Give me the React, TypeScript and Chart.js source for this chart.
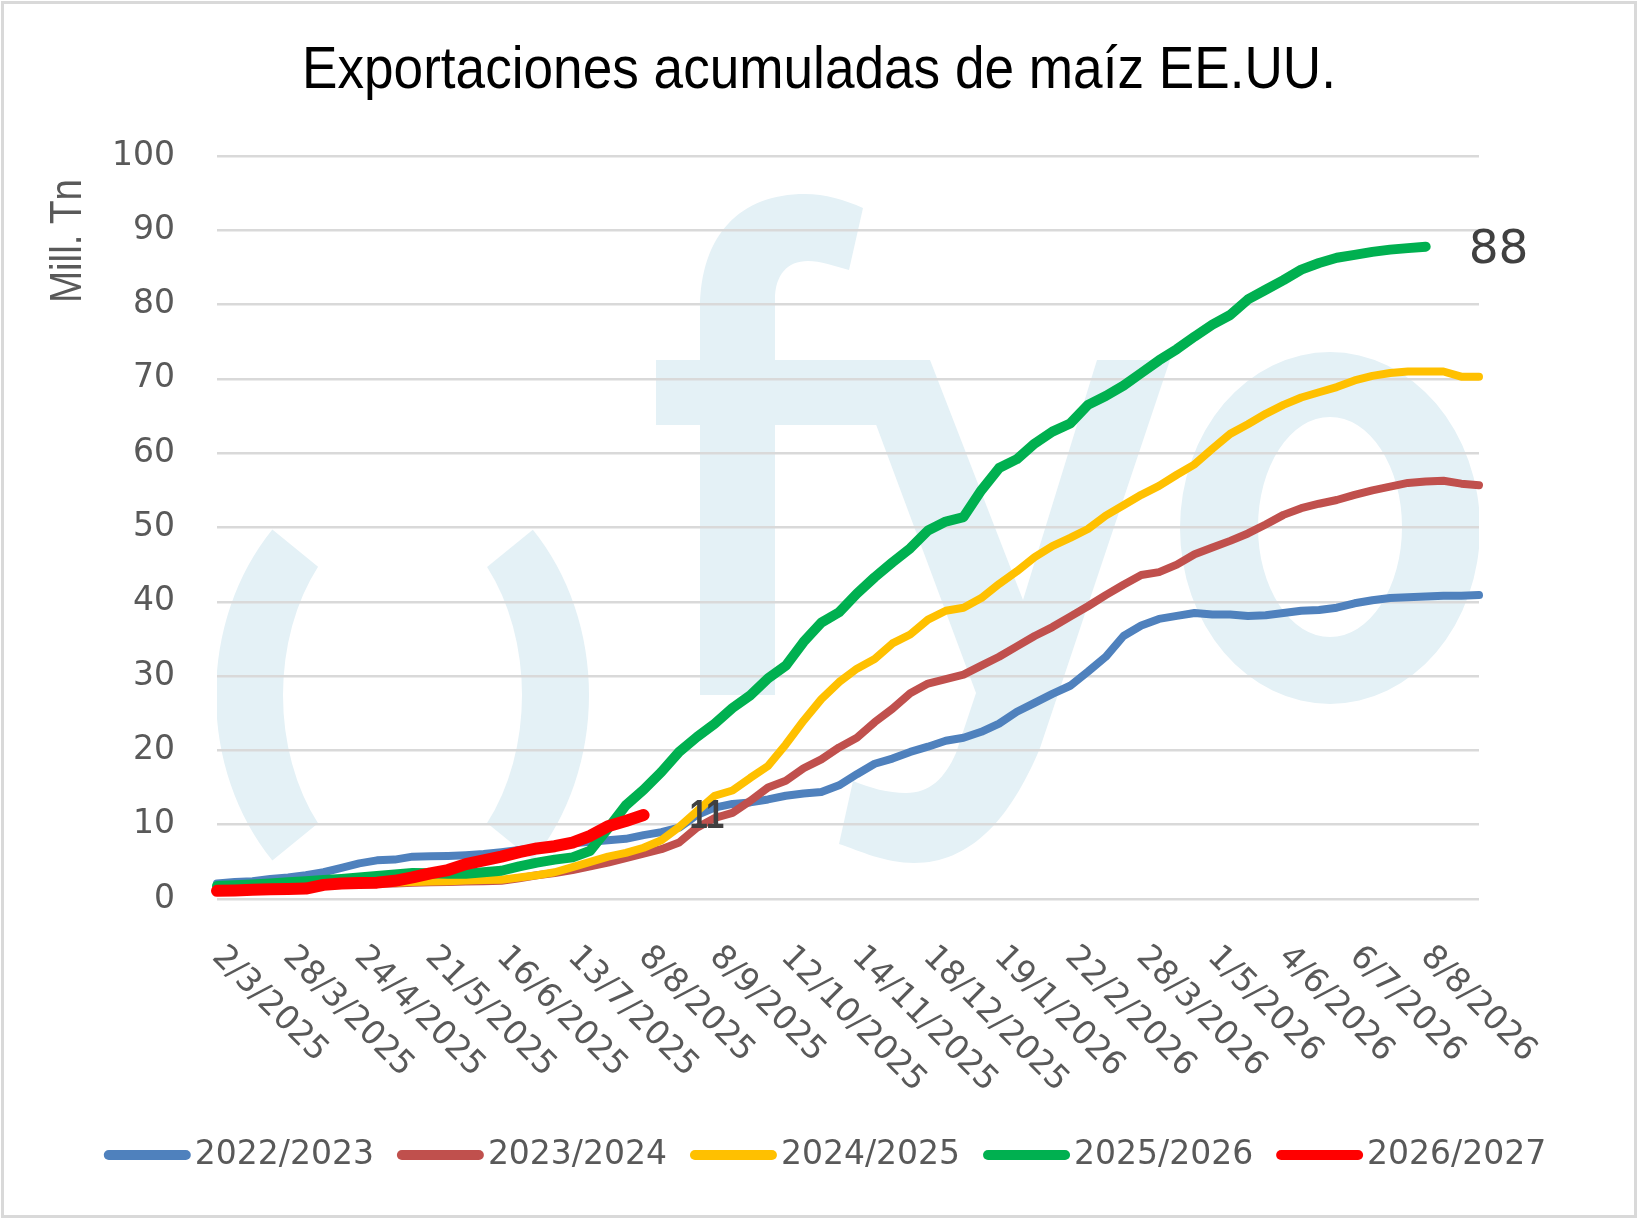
import React, { useEffect, useRef } from 'react';
import { Chart, registerables } from 'chart.js';

Chart.register(...registerables);

// one label every 4 weeks on the x axis
const tickLabels = [
  '2/3/2025', '28/3/2025', '24/4/2025', '21/5/2025', '16/6/2025', '13/7/2025',
  '8/8/2025', '8/9/2025', '12/10/2025', '14/11/2025', '18/12/2025', '19/1/2026',
  '22/2/2026', '28/3/2026', '1/5/2026', '4/6/2026', '6/7/2026', '8/8/2026',
];
const weeksPerTick = 4;
const weekCount = 72;

const seasons = ['2022/2023', '2023/2024', '2024/2025', '2025/2026', '2026/2027'];

// cumulative exports, million tonnes
const s2223 = [
  2.1, 2.3, 2.4, 2.7, 2.9, 3.2, 3.6, 4.2, 4.8, 5.2,
  5.3, 5.7, 5.75, 5.8, 5.9, 6.05, 6.3, 6.6, 6.9, 7.2,
  7.5, 7.7, 7.9, 8.1, 8.6, 9.0, 9.6, 11.3, 12.3, 12.8,
  13.0, 13.4, 13.9, 14.2, 14.4, 15.3, 16.8, 18.2, 18.9, 19.8,
  20.5, 21.3, 21.7, 22.5, 23.6, 25.2, 26.4, 27.6, 28.7, 30.6,
  32.6, 35.4, 36.8, 37.7, 38.1, 38.5, 38.3, 38.3, 38.1, 38.2,
  38.5, 38.8, 38.9, 39.2, 39.8, 40.2, 40.5, 40.6, 40.7, 40.8,
  40.8, 40.9,
];
const s2324 = [
  1.6, 1.65, 1.7, 1.75, 1.8, 1.85, 1.9, 1.95, 2.0, 2.05,
  2.1, 2.2, 2.25, 2.3, 2.35, 2.4, 2.45, 2.8, 3.2, 3.5,
  3.9, 4.4, 4.9, 5.5, 6.1, 6.7, 7.6, 9.6, 10.9, 11.6,
  13.2, 15.0, 15.9, 17.6, 18.8, 20.4, 21.7, 23.8, 25.6, 27.7,
  29.0, 29.6, 30.2, 31.4, 32.6, 34.0, 35.4, 36.6, 38.0, 39.4,
  40.9, 42.3, 43.6, 44.0, 45.0, 46.4, 47.3, 48.2, 49.2, 50.4,
  51.7, 52.6, 53.2, 53.7, 54.4, 55.0, 55.5, 56.0, 56.2, 56.3,
  55.9, 55.7,
];
const s2425 = [
  1.5, 1.55, 1.6, 1.65, 1.7, 1.8, 1.9, 1.95, 2.0, 2.1,
  2.2, 2.3, 2.35, 2.4, 2.5, 2.55, 2.6, 2.9, 3.2, 3.6,
  4.3, 5.0, 5.7, 6.2, 6.9, 7.9, 9.7, 11.8, 13.9, 14.6,
  16.3, 17.9, 20.8, 24.0, 26.9, 29.2, 31.0, 32.3, 34.4, 35.6,
  37.6, 38.8, 39.2, 40.5, 42.4, 44.1, 46.0, 47.5, 48.6, 49.8,
  51.6, 53.0, 54.4, 55.6, 57.1, 58.5, 60.6, 62.6, 63.9, 65.3,
  66.5, 67.5, 68.2, 68.9, 69.8, 70.4, 70.8, 71.0, 71.0, 71.0,
  70.3, 70.3,
];
const s2526 = [
  1.75, 1.85, 1.95, 2.1, 2.25, 2.4, 2.55, 2.7, 2.9, 3.1,
  3.3, 3.5, 3.45, 3.4, 3.4, 3.6, 3.8, 4.4, 4.9, 5.3,
  5.6, 6.5, 9.5, 12.6, 14.7, 17.1, 19.8, 21.8, 23.6, 25.7,
  27.4, 29.7, 31.4, 34.6, 37.2, 38.6, 41.1, 43.3, 45.3, 47.2,
  49.6, 50.8, 51.4, 55.0, 58.0, 59.2, 61.3, 62.9, 64.0, 66.5,
  67.7, 69.1, 70.8, 72.5, 74.0, 75.7, 77.3, 78.6, 80.7, 82.0,
  83.3, 84.7, 85.6, 86.3, 86.7, 87.1, 87.4, 87.6, 87.8,
];
const s2627 = [
  1.1, 1.15, 1.25, 1.3, 1.35, 1.4, 1.9, 2.1, 2.15, 2.2,
  2.45, 2.9, 3.45, 3.9, 4.7, 5.2, 5.7, 6.3, 6.8, 7.1,
  7.6, 8.5, 9.8, 10.5, 11.3,
];

const categories = Array.from({ length: weekCount }, (_, i) =>
  i % weeksPerTick === 0 ? tickLabels[i / weeksPerTick] : ''
);

const greyText = '#595959';
const tickFont = '"DejaVu Sans", sans-serif';

// light blue "( )fyo" logo behind the plot
function drawWatermark(ctx: CanvasRenderingContext2D, area: any) {
  ctx.save();
  ctx.beginPath();
  ctx.rect(area.left, area.top, area.right - area.left, area.bottom - area.top);
  ctx.clip();
  ctx.fillStyle = '#e4f1f6';

  ctx.beginPath();
  ctx.ellipse(420, 695, 204, 240, 0, -2.38, 2.38, true);
  ctx.ellipse(420, 695, 137, 192, 0, 2.41, -2.41, false);
  ctx.closePath();
  ctx.fill();

  ctx.beginPath();
  ctx.ellipse(385, 695, 204, 240, 0, -0.76, 0.76, false);
  ctx.ellipse(385, 695, 137, 192, 0, 0.73, -0.73, true);
  ctx.closePath();
  ctx.fill();

  // f
  ctx.beginPath();
  ctx.moveTo(700, 695);
  ctx.lineTo(700, 310);
  ctx.bezierCurveTo(700, 235, 740, 194, 805, 194);
  ctx.bezierCurveTo(825, 194, 845, 200, 863, 208);
  ctx.lineTo(849, 270);
  ctx.bezierCurveTo(835, 266, 820, 261, 808, 261);
  ctx.bezierCurveTo(787, 261, 775, 275, 775, 300);
  ctx.lineTo(775, 695);
  ctx.closePath();
  ctx.fill();
  ctx.fillRect(656, 360, 274, 65);

  // y
  ctx.beginPath();
  ctx.moveTo(852, 360);
  ctx.lineTo(930, 360);
  ctx.lineTo(1023, 600);
  ctx.lineTo(1097, 360);
  ctx.lineTo(1170, 360);
  ctx.lineTo(1040, 748);
  ctx.bezierCurveTo(1010, 820, 970, 863, 914, 863);
  ctx.bezierCurveTo(885, 863, 860, 851, 839, 844);
  ctx.lineTo(853, 781);
  ctx.bezierCurveTo(870, 788, 888, 793, 906, 793);
  ctx.bezierCurveTo(930, 793, 945, 778, 956, 753);
  ctx.lineTo(976, 693);
  ctx.closePath();
  ctx.fill();

  // o
  ctx.beginPath();
  ctx.ellipse(1330, 528, 150, 176, 0, 0, Math.PI * 2);
  ctx.moveTo(1402, 527);
  ctx.ellipse(1330, 527, 72, 110, 0, 0, Math.PI * 2);
  ctx.fill('evenodd');
  ctx.restore();
}

const framePlugin = {
  id: 'frame',
  beforeDraw(chart: any) {
    const { ctx, width, height, chartArea } = chart;
    ctx.save();
    ctx.fillStyle = '#ffffff';
    ctx.fillRect(0, 0, width, height);
    ctx.strokeStyle = '#d9d9d9';
    ctx.lineWidth = 3;
    ctx.strokeRect(2.5, 2.5, width - 5, height - 5);
    ctx.restore();
    drawWatermark(ctx, chartArea);
  },
  afterDraw(chart: any) {
    const { ctx, chartArea } = chart;
    const xScale = chart.scales.x;

    ctx.save();
    // title, condensed to the width of the original
    ctx.font = '60px "Liberation Sans", Arial, sans-serif';
    ctx.fillStyle = '#000000';
    ctx.textBaseline = 'alphabetic';
    ctx.textAlign = 'center';
    const title = 'Exportaciones acumuladas de maíz EE.UU.';
    const tw = ctx.measureText(title).width;
    ctx.save();
    ctx.translate(chart.width / 2, 88);
    ctx.scale(1034 / tw, 1);
    ctx.fillText(title, 0, 0);
    ctx.restore();

    // y axis title
    ctx.font = '44px "Liberation Sans", Arial, sans-serif';
    ctx.fillStyle = greyText;
    ctx.textBaseline = 'middle';
    ctx.save();
    ctx.translate(69, 241);
    ctx.rotate(-Math.PI / 2);
    ctx.scale(0.875, 1);
    ctx.fillText('Mill. Tn', 0, 0);
    ctx.restore();

    // rotated x tick labels
    ctx.font = `33px ${tickFont}`;
    ctx.textAlign = 'left';
    tickLabels.forEach((label, k) => {
      const px = xScale.getPixelForValue(k * weeksPerTick);
      ctx.save();
      ctx.translate(px, chartArea.bottom + 53);
      ctx.rotate(Math.PI / 4);
      ctx.fillText(label, 0, 0);
      ctx.restore();
    });

    // legend
    const sets = chart.data.datasets;
    const sw = 87;
    const gapIn = 4;
    const gapOut = 23;
    const widths = sets.map((d: any) => ctx.measureText(d.label).width);
    const total =
      widths.reduce((a: number, w: number) => a + sw + gapIn + w, 0) + gapOut * (sets.length - 1);
    let lx = (chart.width - total) / 2 + 6;
    const ly = 1155;
    sets.forEach((d: any, i: number) => {
      ctx.strokeStyle = d.borderColor;
      ctx.lineWidth = 10;
      ctx.lineCap = 'round';
      ctx.beginPath();
      ctx.moveTo(lx + 5, ly);
      ctx.lineTo(lx + sw - 5, ly);
      ctx.stroke();
      ctx.fillStyle = greyText;
      ctx.fillText(d.label, lx + sw + gapIn, ly);
      lx += sw + gapIn + widths[i] + gapOut;
    });
    ctx.restore();
  },
  afterDatasetsDraw(chart: any) {
    const { ctx } = chart;
    const endLabels = [
      { index: 3, font: `47px ${tickFont}`, squeeze: 1, dx: 43, dy: 4 },
      { index: 4, font: 'bold 41px "Liberation Sans", Arial, sans-serif', squeeze: 0.8, dx: 46, dy: 2 },
    ];
    ctx.save();
    ctx.fillStyle = '#404040';
    ctx.textAlign = 'left';
    ctx.textBaseline = 'middle';
    endLabels.forEach(({ index, font, squeeze, dx, dy }) => {
      const meta = chart.getDatasetMeta(index);
      const values = chart.data.datasets[index].data;
      const pt = meta.data[values.length - 1];
      ctx.font = font;
      ctx.save();
      ctx.translate(pt.x + dx, pt.y + dy);
      ctx.scale(squeeze, 1);
      ctx.fillText(String(Math.round(values[values.length - 1])), 0, 0);
      ctx.restore();
    });
    ctx.restore();
  },
};

const App: React.FC = () => {
  const chartRef = useRef<HTMLCanvasElement | null>(null);
  const chartInstanceRef = useRef<Chart | null>(null);

  useEffect(() => {
    if (!chartRef.current) return;
    if (chartInstanceRef.current) {
      chartInstanceRef.current.destroy();
      chartInstanceRef.current = null;
    }

    const series = [s2223, s2324, s2425, s2526, s2627];
    const colors = ['#4f81bd', '#c0504d', '#ffc000', '#00b050', '#ff0000'];
    const lineWidths = [8, 8, 8, 10, 12];

    const chart = new Chart(chartRef.current, {
      type: 'line',
      data: {
        labels: categories,
        datasets: series.map((data, i) => ({
          label: seasons[i],
          data,
          borderColor: colors[i],
          backgroundColor: colors[i],
          borderWidth: lineWidths[i],
          borderCapStyle: 'round',
          borderJoinStyle: 'round',
          pointRadius: 0,
          tension: 0,
          fill: false,
          order: series.length - i,
        })),
      },
      options: {
        responsive: false,
        animation: false,
        layout: { padding: { top: 156, left: 0, right: 159, bottom: 320 } },
        plugins: {
          legend: { display: false },
          tooltip: { enabled: false },
          title: { display: false },
        },
        scales: {
          x: { display: false },
          y: {
            min: 0,
            max: 100,
            ticks: {
              stepSize: 10,
              color: greyText,
              font: { family: 'DejaVu Sans', size: 33 },
              padding: 42,
            },
            grid: { color: '#d9d9d9', lineWidth: 2.5, drawTicks: false },
            border: { display: false },
            afterFit: (scale: any) => {
              scale.width = 217;
            },
          },
        },
      },
      plugins: [framePlugin],
    } as any);

    chartInstanceRef.current = chart;

    return () => {
      if (chartInstanceRef.current !== null) {
        chartInstanceRef.current.destroy();
        chartInstanceRef.current = null;
      }
    };
  }, []);

  return (
    <div style={{ position: 'absolute', left: 0, top: 0, width: 1638, height: 1219 }}>
      <canvas ref={chartRef} width={1638} height={1219} style={{ display: 'block' }} />
    </div>
  );
};

export default App;
